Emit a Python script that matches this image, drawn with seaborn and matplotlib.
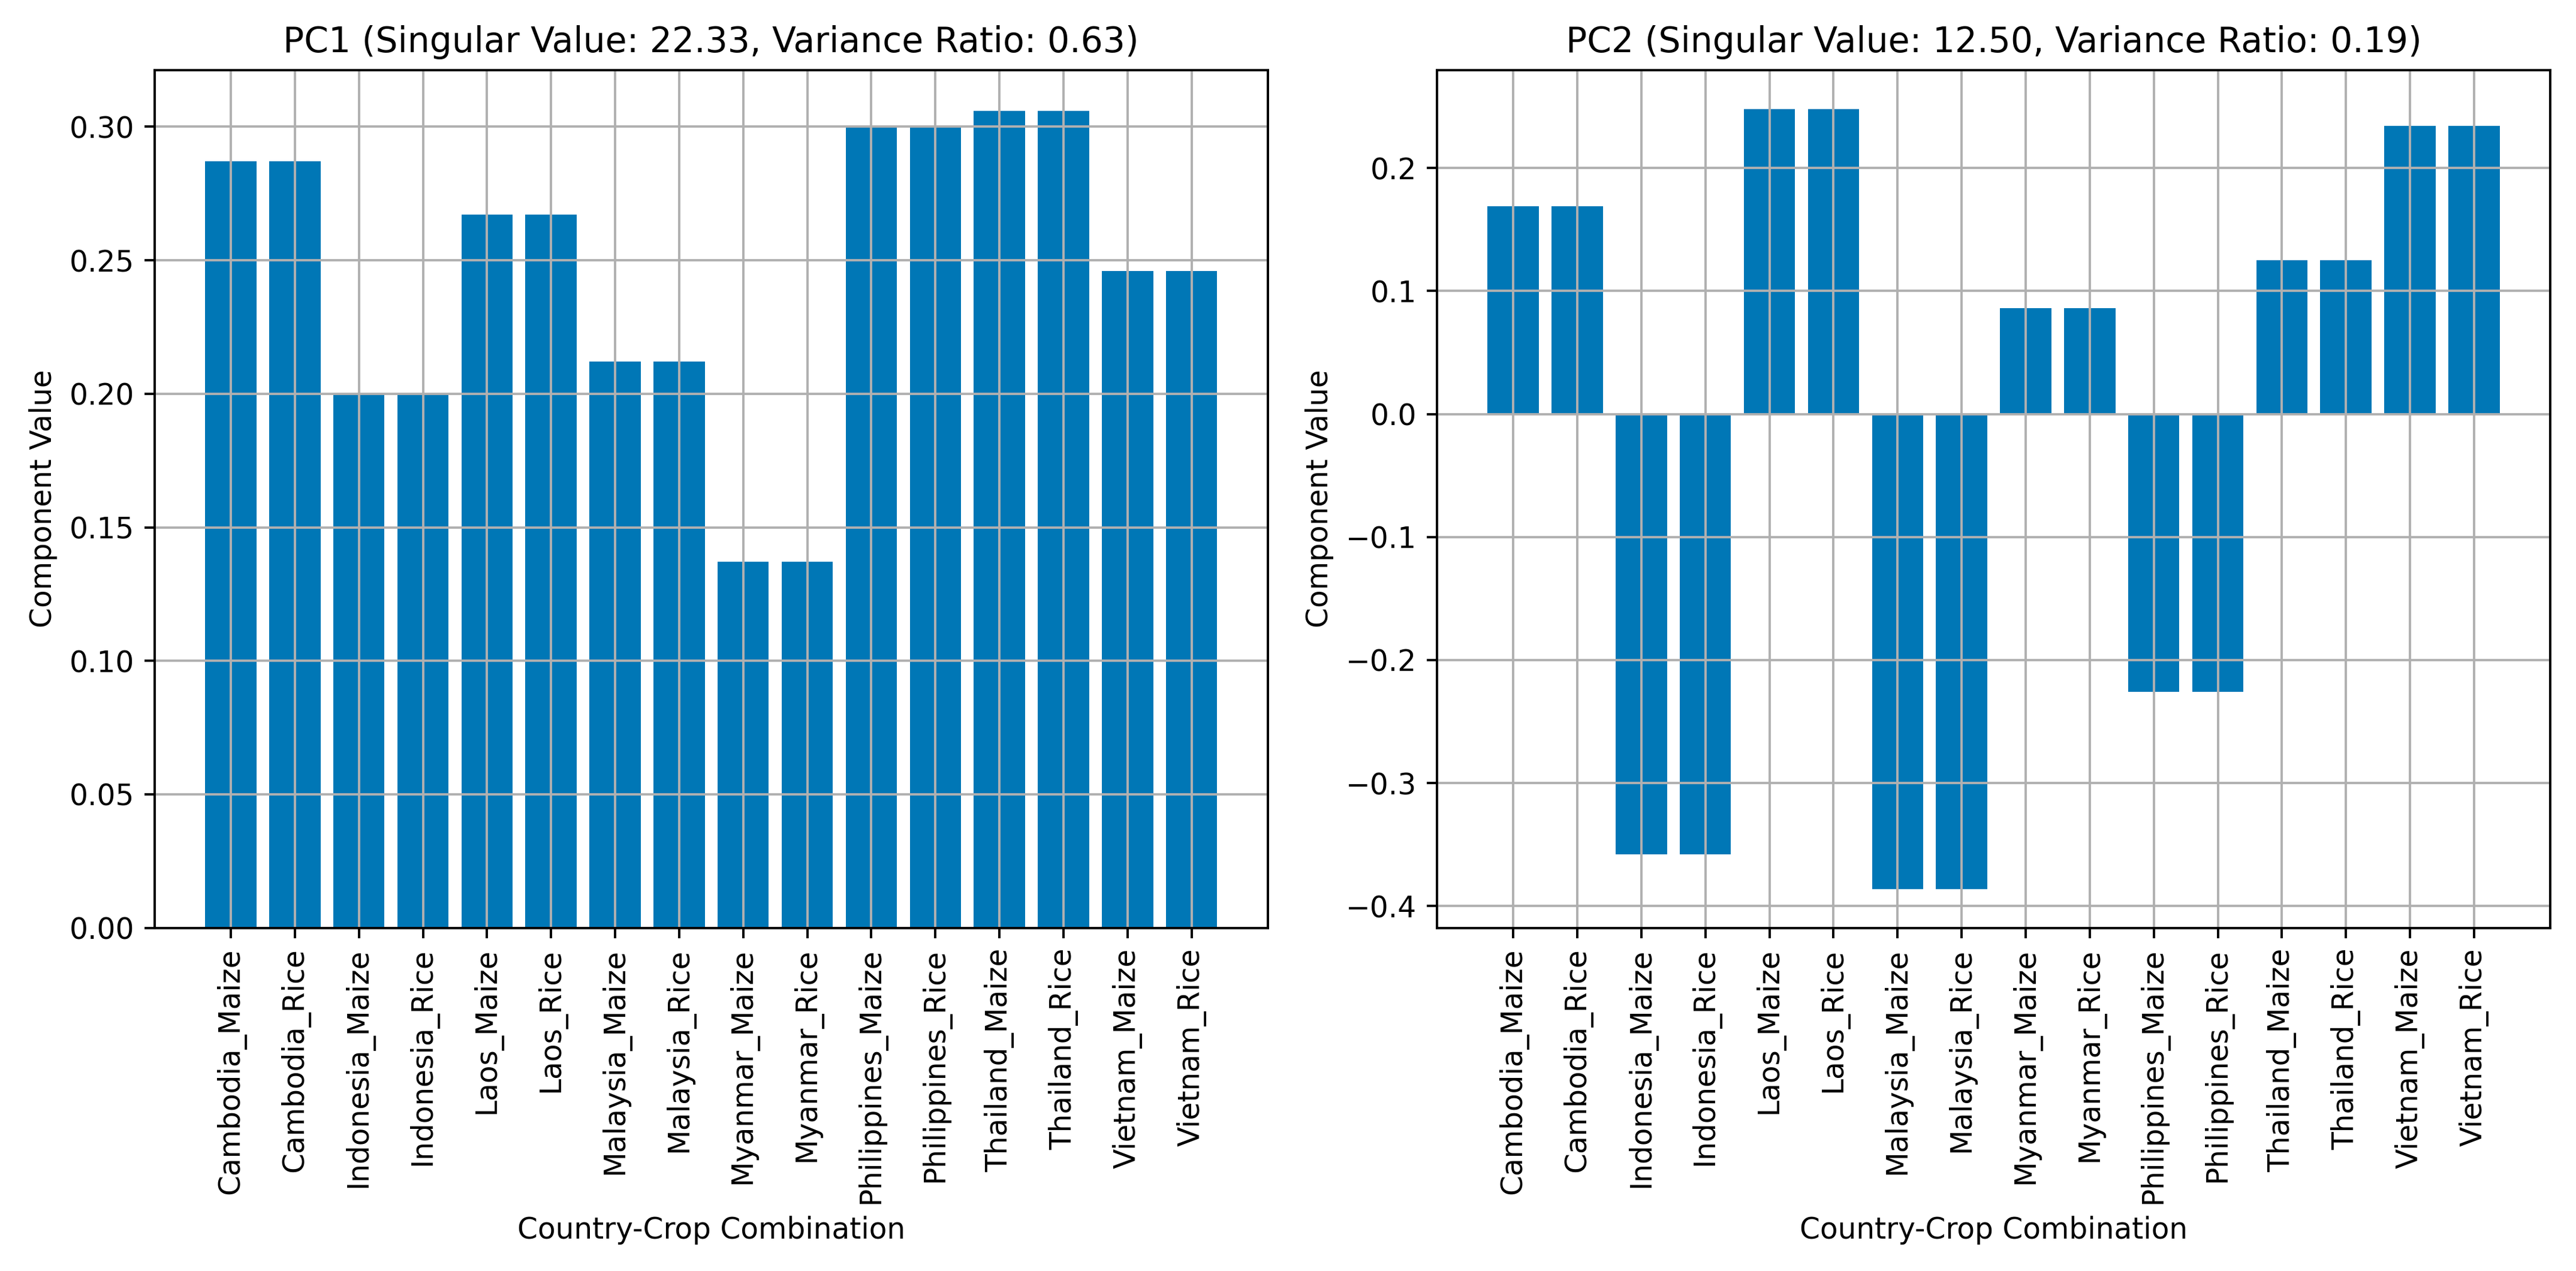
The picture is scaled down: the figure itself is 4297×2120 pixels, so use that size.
import numpy as np
import pandas as pd
import seaborn as sns
import matplotlib
matplotlib.use("Agg")
import matplotlib.pyplot as plt

# data
labels = [
    "Cambodia_Maize", "Cambodia_Rice", "Indonesia_Maize", "Indonesia_Rice",
    "Laos_Maize", "Laos_Rice", "Malaysia_Maize", "Malaysia_Rice",
    "Myanmar_Maize", "Myanmar_Rice", "Philippines_Maize", "Philippines_Rice",
    "Thailand_Maize", "Thailand_Rice", "Vietnam_Maize", "Vietnam_Rice",
]
pc1 = [0.287, 0.287, 0.200, 0.200, 0.267, 0.267, 0.212, 0.212,
       0.137, 0.137, 0.300, 0.300, 0.306, 0.306, 0.246, 0.246]
pc2 = [0.169, 0.169, -0.358, -0.358, 0.248, 0.248, -0.386, -0.386,
       0.086, 0.086, -0.226, -0.226, 0.125, 0.125, 0.234, 0.234]
titles = [
    "PC1 (Singular Value: 22.33, Variance Ratio: 0.63)",
    "PC2 (Singular Value: 12.50, Variance Ratio: 0.19)",
]

bar_color = "#0077b6"
dpi = 350

fig, axes = plt.subplots(1, 2, figsize=(4297 / dpi, 2120 / dpi), dpi=dpi)

for ax, vals, title in zip(axes, [pc1, pc2], titles):
    df = pd.DataFrame({"combo": labels, "value": vals})
    sns.barplot(data=df, x="combo", y="value", color=bar_color,
                saturation=1, width=0.8, ax=ax)
    ax.set_title(title)
    ax.set_xlabel("Country-Crop Combination")
    ax.set_ylabel("Component Value")
    ax.tick_params(axis="x", rotation=90)
    ax.grid(True)
    # matplotlib-style margins around the bars
    pad = 0.4 + 0.05 * (len(labels) - 1 + 0.8)
    ax.set_xlim(-pad, len(labels) - 1 + pad)
    lo, hi = min(min(vals), 0), max(max(vals), 0)
    span = hi - lo
    ax.set_ylim(lo - 0.05 * span if lo < 0 else 0, hi + 0.05 * span)

plt.subplots_adjust(left=0.060, right=0.990, bottom=0.270, top=0.945,
                    wspace=0.152)
plt.savefig("out.png", dpi=dpi)
